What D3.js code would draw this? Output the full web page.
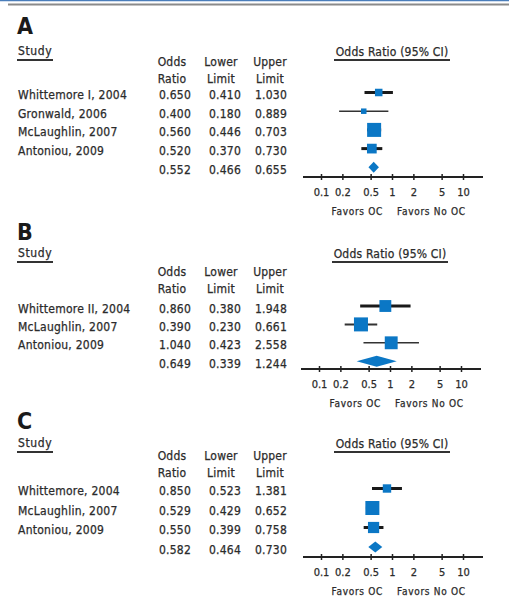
<!DOCTYPE html>
<html>
<head>
<meta charset="utf-8">
<script src="https://cdn.jsdelivr.net/npm/d3@7"></script>
<style>
  body { margin: 0; background: #fff; }
  text { font-family: "DejaVu Sans Condensed", "Liberation Sans", sans-serif; }
</style>
</head>
<body>
<svg width="509" height="605"></svg>
<script>
// panel A
var studiesA = ['Whittemore I, 2004', 'Gronwald, 2006', 'McLaughlin, 2007', 'Antoniou, 2009'];
var oddsA  = [0.650, 0.400, 0.560, 0.520];
var lowerA = [0.410, 0.180, 0.446, 0.370];
var upperA = [1.030, 0.889, 0.703, 0.730];
var weightA = [15, 8, 52, 25];
var summaryA = [0.552, 0.466, 0.655];

// panel B
var studiesB = ['Whittemore II, 2004', 'McLaughlin, 2007', 'Antoniou, 2009'];
var oddsB  = [0.860, 0.390, 1.040];
var lowerB = [0.380, 0.230, 0.423];
var upperB = [1.948, 0.661, 2.558];
var weightB = [28, 39, 33];
var summaryB = [0.649, 0.339, 1.244];

// panel C
var studiesC = ['Whittemore, 2004', 'McLaughlin, 2007', 'Antoniou, 2009'];
var oddsC  = [0.850, 0.529, 0.550];
var lowerC = [0.523, 0.429, 0.399];
var upperC = [1.381, 0.652, 0.758];
var weightC = [18, 50, 32];
var summaryC = [0.582, 0.464, 0.730];

var panelLabels = ['A', 'B', 'C'];
var tickValues = [0.1, 0.2, 0.5, 1, 2, 5, 10];
var tickLabels = ['0.1', '0.2', '0.5', '1', '2', '5', '10'];

var svg = d3.select('svg');
var blue = '#0b77c5';
var ink = '#2b2b2b';
var fmt = d3.format('.3f');

// top rule
svg.append('line').attr('x1',0).attr('x2',509).attr('y1',0.5).attr('y2',0.5)
    .attr('stroke','#4a7ebb').attr('stroke-width',1.5);
svg.append('line').attr('x1',8).attr('x2',509).attr('y1',4.5).attr('y2',4.5)
    .attr('stroke','#8a8a8a').attr('stroke-width',2);

var panels = [
    {studies:studiesA, odds:oddsA, lower:lowerA, upper:upperA, weight:weightA, summary:summaryA,
     top:34, study:55, head:66, row0:92.5, step:18.7, axis:177, dx:0, lw:[3,1.5,3,3]},
    {studies:studiesB, odds:oddsB, lower:lowerB, upper:upperB, weight:weightB, summary:summaryB,
     top:240, study:257, head:276, row0:306, step:18.4, axis:369, dx:-2, lw:[3,2,1.5]},
    {studies:studiesC, odds:oddsC, lower:lowerC, upper:upperC, weight:weightC, summary:summaryC,
     top:429, study:447, head:460, row0:488.5, step:19.5, axis:557, dx:0, lw:[3,3,3]}
];

panels.forEach(function(p, k){
    p.label = panelLabels[k];
    drawPanel(p);
});

function label(g, x, y, s, size, spacing){
    return g.append('text').attr('x',x).attr('y',y).text(s)
        .attr('font-size',size).attr('letter-spacing',spacing)
        .attr('fill',ink).attr('stroke',ink).attr('stroke-width',0.25);
}

function drawPanel(p){
    var g = svg.append('g');
    var x = d3.scaleLog().domain([0.1, 10]).range([321 + p.dx, 463 + p.dx]);
    var n = p.studies.length;
    var y = d3.scalePoint().domain(d3.range(n + 1)).range([p.row0, p.row0 + p.step * n]);
    var size = d3.scaleSqrt().domain([0, d3.max(p.weight)]).range([0, 14]);

    g.append('text').attr('x',17).attr('y',p.top).text(p.label)
        .attr('font-family','Liberation Sans, Arial, sans-serif')
        .attr('font-weight','bold').attr('font-size',23).attr('fill','#1a1a1a');

    // Study header
    label(g, 18, p.study, 'Study', 12, 0.6);
    g.append('line').attr('x1',17).attr('x2',53).attr('y1',p.study+5).attr('y2',p.study+5)
        .attr('stroke','#333').attr('stroke-width',1.8);

    // chart title
    var cx = x(1);
    label(g, cx, p.study+1, 'Odds Ratio (95% CI)', 12, 0.2).attr('text-anchor','middle');
    g.append('line').attr('x1',cx-58).attr('x2',cx+58).attr('y1',p.study+5).attr('y2',p.study+5)
        .attr('stroke','#333').attr('stroke-width',1.8);

    // column headers
    var cols = [
        {x:172, l1:'Odds', l2:'Ratio'},
        {x:221, l1:'Lower', l2:'Limit'},
        {x:270, l1:'Upper', l2:'Limit'}
    ];
    cols.forEach(function(c){
        label(g, c.x, p.head, c.l1, 12, 0.2).attr('text-anchor','middle');
        label(g, c.x, p.head+17, c.l2, 12, 0.2).attr('text-anchor','middle');
    });

    var rows = p.studies.map(function(s,i){
        return {name:s, or:p.odds[i], lo:p.lower[i], hi:p.upper[i], w:p.weight[i], lw:p.lw[i], i:i};
    });
    var sumRow = {name:'', or:p.summary[0], lo:p.summary[1], hi:p.summary[2], i:n};
    var allRows = rows.concat([sumRow]);

    g.selectAll('.name').data(rows).join('text')
        .attr('class','name')
        .attr('x',18).attr('y',d => y(d.i)+6.5)
        .text(d => d.name)
        .attr('font-size',12).attr('letter-spacing',0.25)
        .attr('fill',ink).attr('stroke',ink).attr('stroke-width',0.25);

    var valCols = [{k:'or', x:175}, {k:'lo', x:225}, {k:'hi', x:271}];
    valCols.forEach(function(c){
        g.selectAll('.v'+c.k).data(allRows).join('text')
            .attr('class','v'+c.k)
            .attr('x',c.x).attr('y',d => y(d.i)+6.5)
            .attr('text-anchor','middle')
            .text(d => fmt(d[c.k]))
            .attr('font-size',12).attr('letter-spacing',0.2)
            .attr('fill',ink).attr('stroke',ink).attr('stroke-width',0.25);
    });

    // CI lines
    g.selectAll('.ci').data(rows).join('line')
        .attr('class','ci')
        .attr('x1',d => x(d.lo)).attr('x2',d => x(d.hi))
        .attr('y1',d => y(d.i)).attr('y2',d => y(d.i))
        .attr('stroke',d => d.lw > 2 ? '#1a1a1a' : '#333')
        .attr('stroke-width',d => d.lw);

    g.selectAll('.sq').data(rows).join('rect')
        .attr('class','sq')
        .attr('x',d => x(d.or) - size(d.w)/2)
        .attr('y',d => y(d.i) - size(d.w)/2)
        .attr('width',d => size(d.w)).attr('height',d => size(d.w))
        .attr('fill',blue);

    // summary diamond
    var sy = y(n), hh = 5.5;
    g.append('path')
        .attr('d','M'+x(sumRow.lo)+','+sy+'L'+x(sumRow.or)+','+(sy-hh)+'L'+x(sumRow.hi)+','+sy+'L'+x(sumRow.or)+','+(sy+hh)+'Z')
        .attr('fill',blue);

    // axis
    var ax = g.append('g').attr('transform','translate(0,'+p.axis+')')
        .call(d3.axisBottom(x).tickValues(tickValues).tickFormat((d,i) => tickLabels[i]).tickSize(3).tickPadding(8));
    ax.select('.domain').remove();
    ax.selectAll('.tick line').attr('y1',-3).attr('y2',3).attr('stroke','#222').attr('stroke-width',1.5);
    ax.selectAll('.tick text').attr('font-size',11).attr('font-family',null)
        .attr('fill',ink).attr('stroke',ink).attr('stroke-width',0.25);
    g.append('line').attr('x1',x.range()[0]-18).attr('x2',x.range()[1]+20)
        .attr('y1',p.axis).attr('y2',p.axis).attr('stroke','#222').attr('stroke-width',2);

    label(g, x(1)-9, p.axis+38, 'Favors OC', 10, 0.7).attr('text-anchor','end');
    label(g, x(1)+5, p.axis+38, 'Favors No OC', 10, 0.7);
}
</script>
</body>
</html>
